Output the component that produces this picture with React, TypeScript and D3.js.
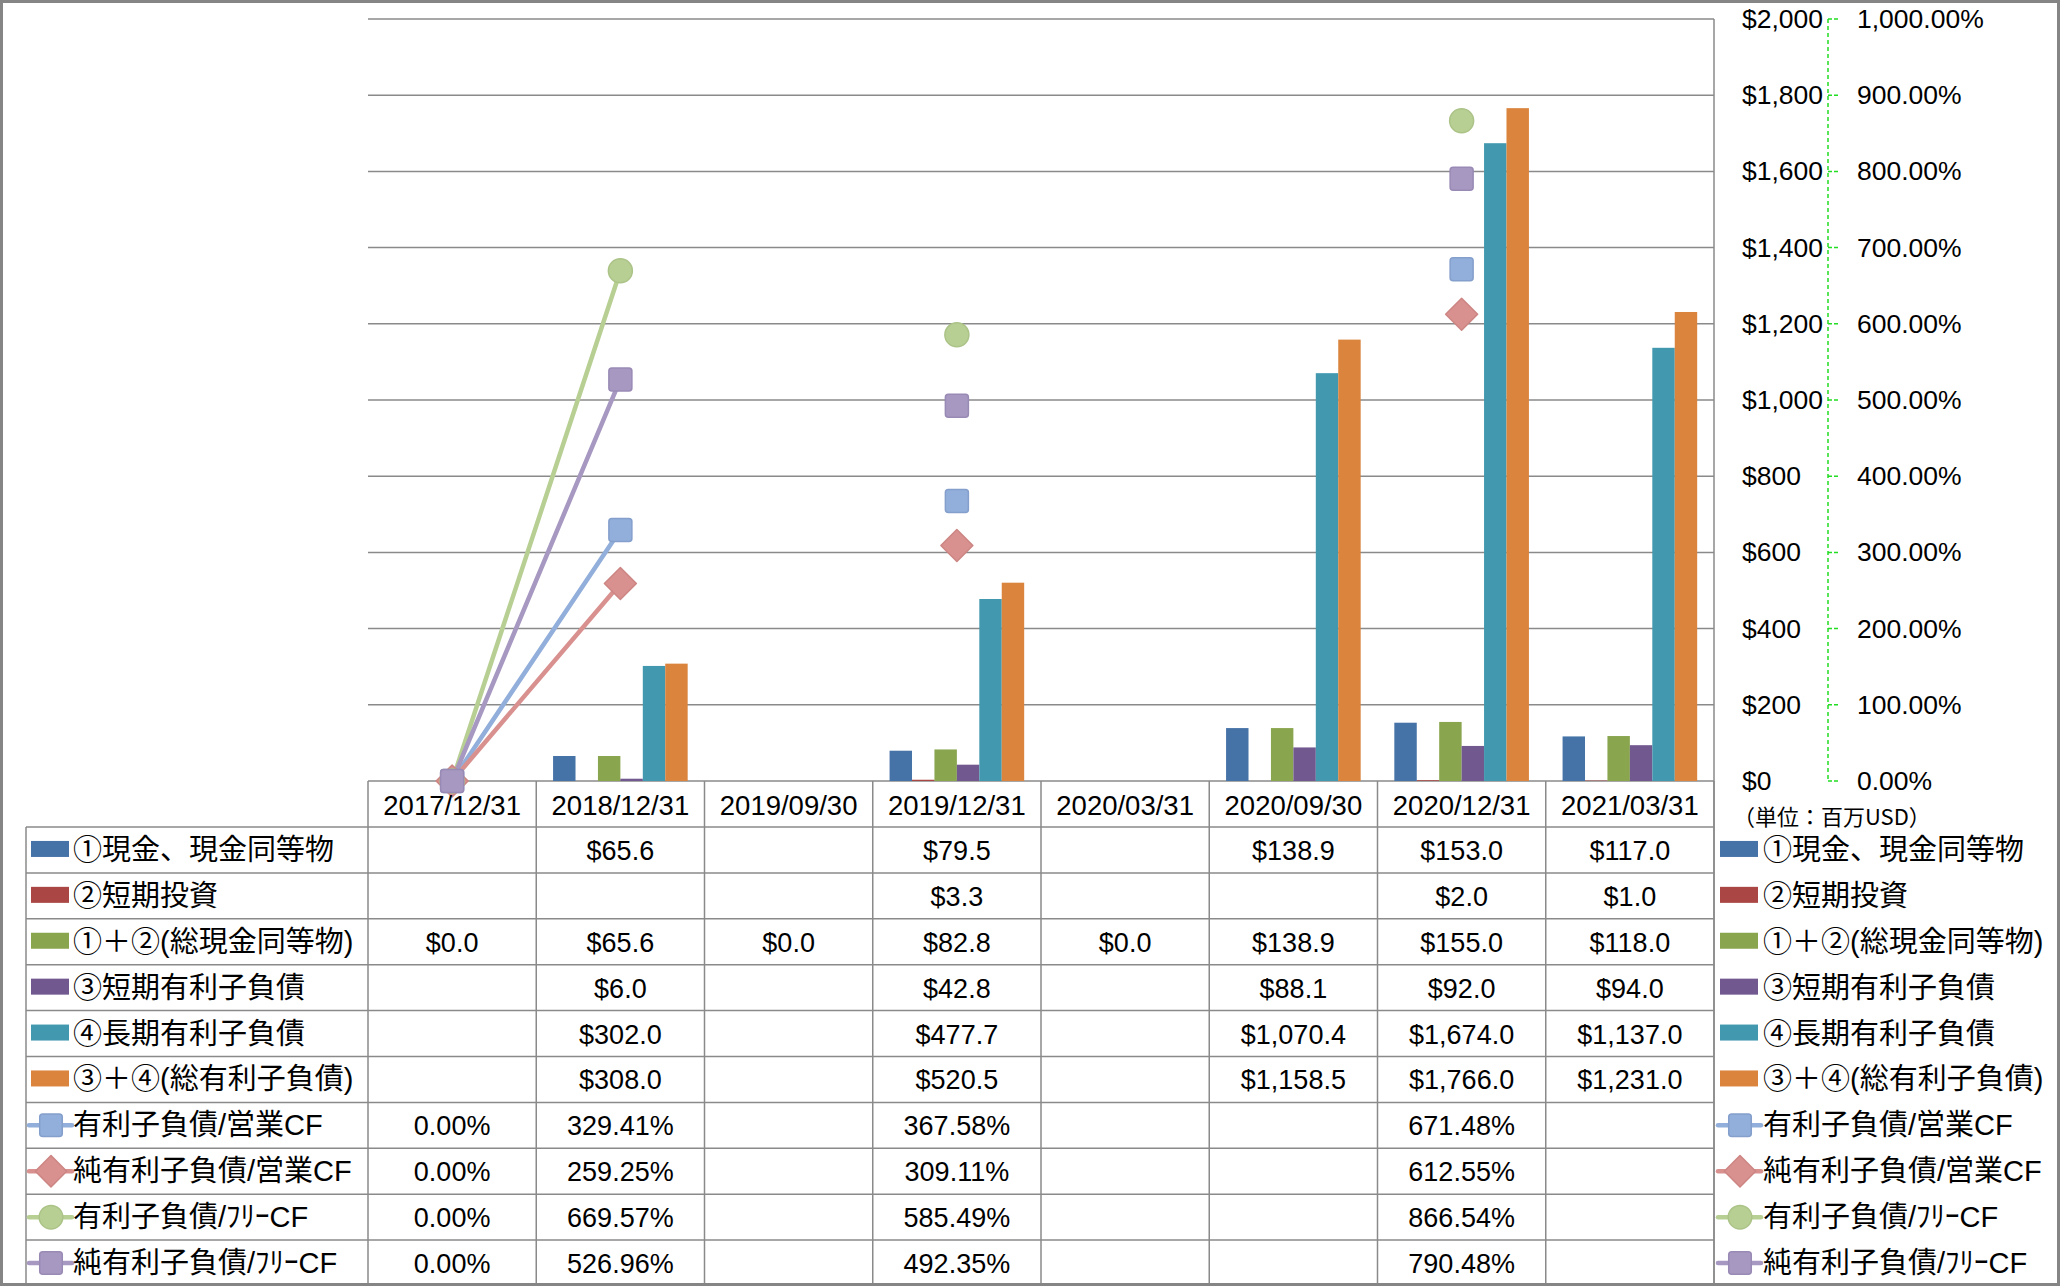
import React from 'react';
import * as d3 from 'd3';

const categories = ['2017/12/31', '2018/12/31', '2019/09/30', '2019/12/31', '2020/03/31', '2020/09/30', '2020/12/31', '2021/03/31'];

const cashValues = [null, 65.6, null, 79.5, null, 138.9, 153.0, 117.0];
const shortInvValues = [null, null, null, 3.3, null, null, 2.0, 1.0];
const totalCashValues = [0, 65.6, 0, 82.8, 0, 138.9, 155.0, 118.0];
const shortDebtValues = [null, 6.0, null, 42.8, null, 88.1, 92.0, 94.0];
const longDebtValues = [null, 302.0, null, 477.7, null, 1070.4, 1674.0, 1137.0];
const totalDebtValues = [null, 308.0, null, 520.5, null, 1158.5, 1766.0, 1231.0];

const debtOpCF = [0, 329.41, null, 367.58, null, null, 671.48, null];
const netDebtOpCF = [0, 259.25, null, 309.11, null, null, 612.55, null];
const debtFCF = [0, 669.57, null, 585.49, null, null, 866.54, null];
const netDebtFCF = [0, 526.96, null, 492.35, null, null, 790.48, null];

const leftTicks = [0, 200, 400, 600, 800, 1000, 1200, 1400, 1600, 1800, 2000];
const rightTicks = [0, 100, 200, 300, 400, 500, 600, 700, 800, 900, 1000];

const barSeries = [
  { name: '①現金、現金同等物', values: cashValues, color: '#4572A7' },
  { name: '②短期投資', values: shortInvValues, color: '#AA4643' },
  { name: '①＋②(総現金同等物)', values: totalCashValues, color: '#89A54E' },
  { name: '③短期有利子負債', values: shortDebtValues, color: '#71588F' },
  { name: '④長期有利子負債', values: longDebtValues, color: '#4198AF' },
  { name: '③＋④(総有利子負債)', values: totalDebtValues, color: '#DB843D' },
];

const lineSeries = [
  { name: '有利子負債/営業CF', values: debtOpCF, color: '#92AEDA', stroke: '#849FCC', shape: 'square' },
  { name: '純有利子負債/営業CF', values: netDebtOpCF, color: '#D8918F', stroke: '#CC8583', shape: 'diamond' },
  { name: '有利子負債/ﾌﾘｰCF', values: debtFCF, color: '#B8CF94', stroke: '#ABC387', shape: 'circle' },
  { name: '純有利子負債/ﾌﾘｰCF', values: netDebtFCF, color: '#A698C1', stroke: '#998AB5', shape: 'square' },
];

const W = 2060;
const H = 1286;
const PL = 368;
const PR = 1714;
const PT = 19;
const PB = 781;
const TABLE_LEFT = 26;
const HEADER_BOTTOM = 827;
const ROWS = 10;
const ROW_H = (H - HEADER_BOTTOM) / ROWS;

const NUM_FONT = "'Liberation Sans', Arial, 'Noto Sans CJK JP', sans-serif";
const JP_FONT = "'Noto Sans CJK JP', sans-serif";
const GRID = '#8A8A8A';

function Marker({ shape, cx, cy, fill, stroke, scale = 1 }) {
  if (shape === 'circle') {
    const r = 12 * scale;
    return <circle cx={cx} cy={cy} r={r} fill={fill} stroke={stroke} strokeWidth={1.5} />;
  }
  if (shape === 'diamond') {
    const r = 16 * scale;
    const pts = [[cx, cy - r], [cx + r, cy], [cx, cy + r], [cx - r, cy]].map(p => p.join(',')).join(' ');
    return <polygon points={pts} fill={fill} stroke={stroke} strokeWidth={1.5} strokeLinejoin="round" />;
  }
  const s = 23 * scale;
  return <rect x={cx - s / 2} y={cy - s / 2} width={s} height={s} rx={3} fill={fill} stroke={stroke} strokeWidth={1.5} />;
}

const fmtMoney = (v) => (v == null ? '' : '$' + d3.format(',.1f')(v));
const fmtPct = (v) => (v == null ? '' : d3.format(',.2f')(v) + '%');

export default function App() {
  const x = d3.scaleBand().domain(categories).range([PL, PR]);
  const xi = d3
    .scaleBand()
    .domain(barSeries.map(s => s.name))
    .range([0, x.bandwidth()])
    .paddingInner(0)
    .paddingOuter(0.75);
  const y = d3.scaleLinear().domain([0, 2000]).range([PB, PT]);
  const y2 = d3.scaleLinear().domain([0, 1000]).range([PB, PT]);

  const cx = (c) => x(c) + x.bandwidth() / 2;

  const rows = [
    ...barSeries.map(s => ({ ...s, type: 'bar', fmt: fmtMoney })),
    ...lineSeries.map(s => ({ ...s, type: 'line', fmt: fmtPct })),
  ];
  const rowY = (i) => HEADER_BOTTOM + ROW_H * (i + 0.5);

  const lineGen = d3
    .line()
    .defined(d => d.v != null)
    .x(d => cx(d.c))
    .y(d => y2(d.v));

  const legendKey = (r, kx, ky) => {
    if (r.type === 'bar') {
      return <rect x={kx} y={ky - 9} width={38} height={16} fill={r.color} />;
    }
    return (
      <g>
        <line x1={kx - 2} x2={kx + 41} y1={ky} y2={ky} stroke={r.color} strokeWidth={4.5} strokeLinecap="round" />
        <Marker shape={r.shape} cx={kx + 20} cy={ky} fill={r.color} stroke={r.stroke} scale={0.98} />
      </g>
    );
  };

  return (
    <svg width={W} height={H} style={{ position: 'absolute', left: 0, top: 0, background: '#fff' }}>
      <rect x={0} y={0} width={W} height={H} fill="#fff" />
      {/* gridlines */}
      {leftTicks.map(t => (
        <line key={'g' + t} x1={PL} x2={PR} y1={y(t)} y2={y(t)} stroke={GRID} strokeWidth={1.5} />
      ))}
      {/* plot right line / table right border */}
      <line x1={PR} x2={PR} y1={PT} y2={H} stroke={GRID} strokeWidth={1.5} />

      {/* bars */}
      {barSeries.map(s => (
        <g key={s.name}>
          {s.values.map((v, i) =>
            v == null || v === 0 ? null : (
              <rect
                key={i}
                x={x(categories[i]) + xi(s.name)}
                y={y(v)}
                width={xi.bandwidth()}
                height={y(0) - y(v)}
                fill={s.color}
              />
            )
          )}
        </g>
      ))}

      {/* lines */}
      {lineSeries.map(s => (
        <path
          key={'l' + s.name}
          d={lineGen(s.values.map((v, i) => ({ c: categories[i], v })))}
          fill="none"
          stroke={s.color}
          strokeWidth={4.5}
          strokeLinecap="round"
        />
      ))}
      {lineSeries.map(s => (
        <g key={'m' + s.name}>
          {s.values.map((v, i) =>
            v == null ? null : (
              <Marker key={i} shape={s.shape} cx={cx(categories[i])} cy={y2(v)} fill={s.color} stroke={s.stroke} />
            )
          )}
        </g>
      ))}

      {/* left (primary) axis labels */}
      {leftTicks.map(t => (
        <text key={'lt' + t} x={1742} y={y(t)} dominantBaseline="central" fontFamily={NUM_FONT} fontSize={26.5} fill="#000">
          {'$' + d3.format(',')(t)}
        </text>
      ))}
      {/* secondary axis */}
      <line x1={1828} x2={1828} y1={PT} y2={PB} stroke="#22DD22" strokeWidth={1.5} strokeDasharray="4,3" />
      {rightTicks.map(t => (
        <g key={'rt' + t}>
          <line x1={1828} x2={1838} y1={y2(t)} y2={y2(t)} stroke="#22DD22" strokeWidth={1.5} strokeDasharray="4,2" />
          <text x={1857} y={y2(t)} dominantBaseline="central" fontFamily={NUM_FONT} fontSize={26.5} fill="#000">
            {d3.format(',.2f')(t) + '%'}
          </text>
        </g>
      ))}
      <text x={1733} y={815} dominantBaseline="central" fontFamily={JP_FONT} fontSize={22} fill="#000">
        （単位：百万USD）
      </text>

      {/* table grid */}
      {d3.range(categories.length + 1).map(i => (
        <line key={'tv' + i} x1={PL + i * x.step()} x2={PL + i * x.step()} y1={PB} y2={H} stroke={GRID} strokeWidth={1.5} />
      ))}
      <line x1={TABLE_LEFT} x2={TABLE_LEFT} y1={HEADER_BOTTOM} y2={H} stroke={GRID} strokeWidth={1.5} />
      {d3.range(ROWS).map(k => (
        <line
          key={'th' + k}
          x1={TABLE_LEFT}
          x2={PR}
          y1={HEADER_BOTTOM + k * ROW_H}
          y2={HEADER_BOTTOM + k * ROW_H}
          stroke={GRID}
          strokeWidth={1.5}
        />
      ))}

      {/* header labels */}
      {categories.map(c => (
        <text key={'h' + c} x={cx(c)} y={(PB + HEADER_BOTTOM) / 2 + 1} textAnchor="middle" dominantBaseline="central" fontFamily={NUM_FONT} fontSize={27.5} fill="#000">
          {c}
        </text>
      ))}

      {/* table rows */}
      {rows.map((r, i) => (
        <g key={'row' + i}>
          {legendKey(r, 31, rowY(i))}
          <text x={73} y={rowY(i)} dominantBaseline="central" fontFamily={NUM_FONT} fontSize={29} fill="#000">
            {r.name}
          </text>
          {r.values.map((v, j) => (
            <text key={j} x={cx(categories[j])} y={rowY(i) + 1} textAnchor="middle" dominantBaseline="central" fontFamily={NUM_FONT} fontSize={27} fill="#000">
              {r.fmt(v)}
            </text>
          ))}
        </g>
      ))}

      {/* right legend */}
      {rows.map((r, i) => (
        <g key={'leg' + i}>
          {legendKey(r, 1720, rowY(i))}
          <text x={1763} y={rowY(i)} dominantBaseline="central" fontFamily={NUM_FONT} fontSize={29} fill="#000">
            {r.name}
          </text>
        </g>
      ))}

      {/* outer frame */}
      <rect x={1.5} y={1.5} width={W - 3} height={H - 3} fill="none" stroke="#858585" strokeWidth={3} />
    </svg>
  );
}
